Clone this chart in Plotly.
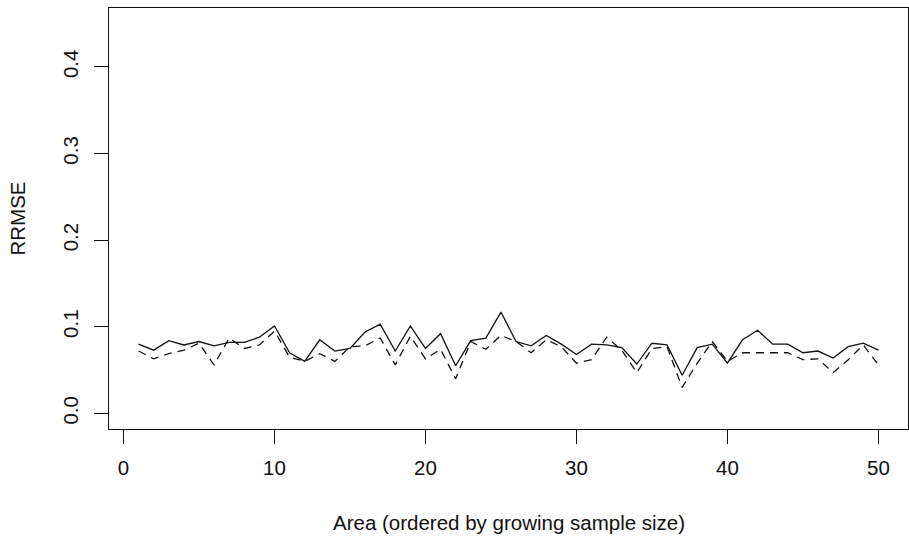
import plotly.graph_objects as go

area = list(range(1, 51))

rrmse_solid = [0.080, 0.073, 0.084, 0.079, 0.083, 0.078, 0.082, 0.082, 0.088, 0.101,
               0.070, 0.060, 0.085, 0.072, 0.075, 0.094, 0.103, 0.072, 0.101, 0.075,
               0.092, 0.055, 0.084, 0.087, 0.117, 0.083, 0.078, 0.090, 0.080, 0.068,
               0.080, 0.079, 0.076, 0.057, 0.081, 0.079, 0.044, 0.076, 0.080, 0.058,
               0.085, 0.096, 0.080, 0.080, 0.070, 0.072, 0.064, 0.077, 0.081, 0.073]

rrmse_dashed = [0.072, 0.063, 0.069, 0.073, 0.081, 0.056, 0.087, 0.075, 0.079, 0.095,
                0.065, 0.060, 0.069, 0.060, 0.077, 0.078, 0.087, 0.056, 0.089, 0.063,
                0.074, 0.040, 0.083, 0.074, 0.090, 0.083, 0.070, 0.085, 0.077, 0.058,
                0.062, 0.088, 0.073, 0.047, 0.075, 0.077, 0.030, 0.058, 0.083, 0.060,
                0.070, 0.070, 0.070, 0.070, 0.062, 0.063, 0.047, 0.062, 0.079, 0.056]

x_ticks = [0, 10, 20, 30, 40, 50]
y_ticks = [0.0, 0.1, 0.2, 0.3, 0.4]
y_tick_labels = ["0.0", "0.1", "0.2", "0.3", "0.4"]

FONT = "Liberation Sans, Arial, Helvetica, sans-serif"
FS = 20.5

fig = go.Figure()
fig.add_trace(go.Scatter(x=area, y=rrmse_solid, mode="lines",
                         line=dict(color="#111111", width=1.3), showlegend=False))
fig.add_trace(go.Scatter(x=area, y=rrmse_dashed, mode="lines",
                         line=dict(color="#111111", width=1.3, dash="8px,6px"), showlegend=False))

fig.update_layout(
    width=909, height=537,
    margin=dict(l=109, r=1, t=8, b=108),
    paper_bgcolor="white", plot_bgcolor="white",
    font=dict(family=FONT, size=FS, color="#111111"),
    xaxis=dict(range=[-0.96, 51.96], tickvals=x_ticks, ticks="outside", ticklen=14,
               tickwidth=1, tickcolor="#111111", showline=True, linecolor="#111111",
               linewidth=1, mirror=True, showgrid=False, zeroline=False,
               ticklabelstandoff=6),
    yaxis=dict(range=[-0.018, 0.468], tickvals=y_ticks, ticktext=y_tick_labels,
               ticks="outside", ticklen=14, tickwidth=1, tickcolor="#111111",
               showline=True, linecolor="#111111", linewidth=1, mirror=True,
               showgrid=False, zeroline=False, tickangle=-90, ticklabelstandoff=8),
    annotations=[
        dict(text="Area (ordered by growing sample size)", xref="paper", yref="paper",
             x=0.5, y=0, xanchor="center", yanchor="middle", yshift=-93,
             showarrow=False, font=dict(family=FONT, size=FS, color="#111111")),
        dict(text="RRMSE", xref="paper", yref="paper", x=0, y=0.5,
             xanchor="center", yanchor="middle", xshift=-92, textangle=-90,
             showarrow=False, font=dict(family=FONT, size=FS, color="#111111")),
    ],
)

fig.write_html("out.html",
               config={"displayModeBar": False},
               post_script="document.body.style.margin='0';document.body.style.overflow='hidden';")
